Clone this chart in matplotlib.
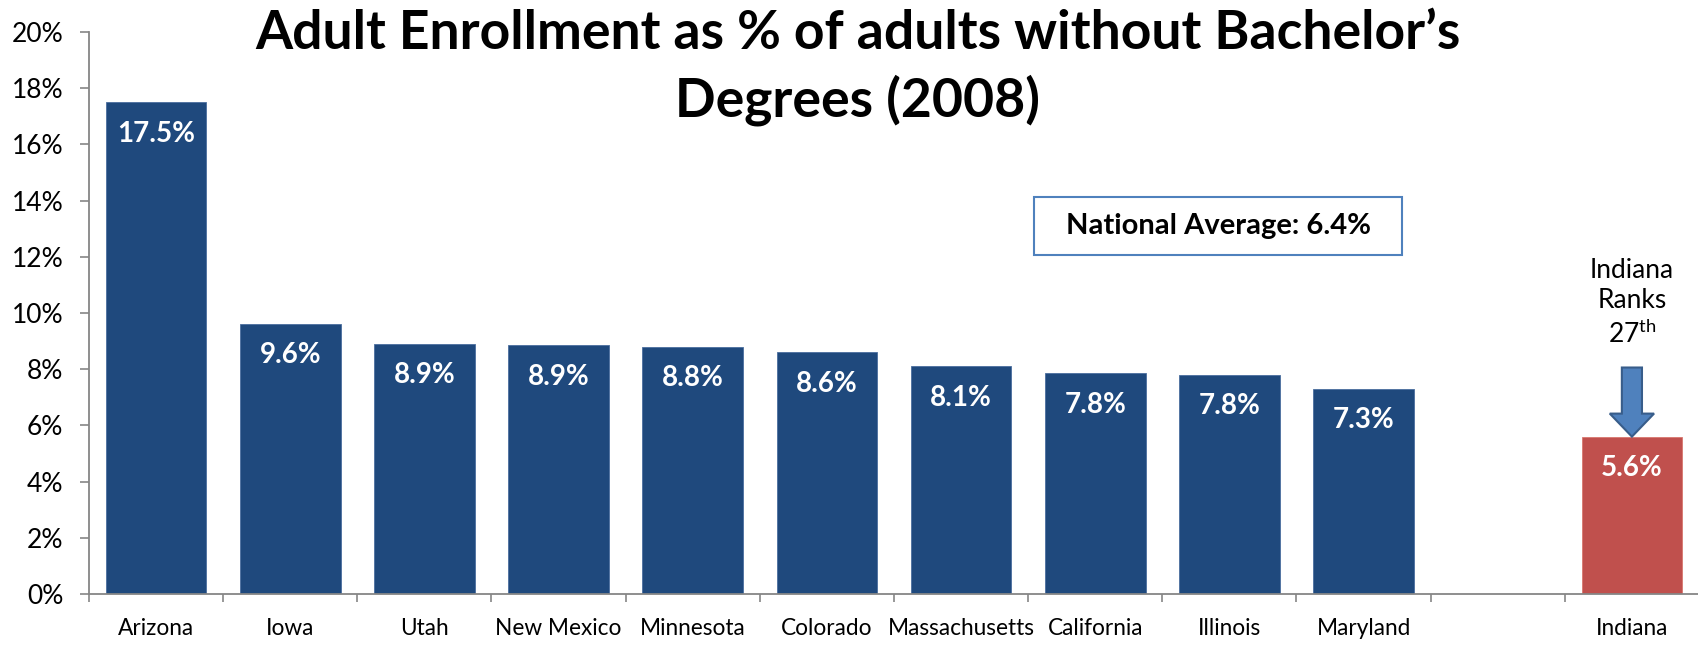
import matplotlib
matplotlib.use("Agg")
import matplotlib.pyplot as plt
from matplotlib.patches import Rectangle, FancyArrow
from matplotlib.ticker import FuncFormatter, MultipleLocator
import numpy as np

plt.rcParams['font.family'] = ['Lato', 'DejaVu Sans']
plt.rcParams['mathtext.fontset'] = 'custom'
plt.rcParams['mathtext.rm'] = 'Lato'

categories = ["Arizona", "Iowa", "Utah", "New Mexico", "Minnesota", "Colorado",
              "Massachusetts", "California", "Illinois", "Maryland", "", "Indiana"]
values = [17.5, 9.6, 8.9, 8.85, 8.8, 8.6, 8.1, 7.85, 7.8, 7.3, np.nan, 5.6]
value_labels = ["17.5%", "9.6%", "8.9%", "8.9%", "8.8%", "8.6%", "8.1%",
                "7.8%", "7.8%", "7.3%", "", "5.6%"]
highlight = "Indiana"
national_avg = 6.4
indiana_rank = 27

BLUE = "#1F497D"
RED = "#C0504D"
GREY = "#868686"

fig = plt.figure(figsize=(16.99, 6.48), dpi=100)
ax = fig.add_axes([89/1699, 1 - 594/648, 1 - 89/1699, (594 - 32)/648])

x = np.arange(len(categories))
colors = [RED if c == highlight else BLUE for c in categories]
bars = ax.bar(x, np.nan_to_num(values), width=0.75, color=colors,
              edgecolor=[("#D9776F" if c == highlight else "#4A6E9E") for c in categories],
              linewidth=0.6, zorder=2)

for xi, v, lab in zip(x, values, value_labels):
    if lab:
        ax.annotate(lab, (xi, v), xytext=(0, -22.5), textcoords="offset points",
                    ha="center", va="center", color="white", fontsize=20,
                    fontweight="bold")

ax.set_xlim(-0.5, len(categories) - 0.5)
ax.set_ylim(0, 20)
ax.yaxis.set_major_locator(MultipleLocator(2))
ax.yaxis.set_major_formatter(FuncFormatter(lambda v, p: f"{v:.0f}%"))
ax.set_xticks(x)
ax.set_xticklabels(categories, fontsize=16.3)
ax.set_xticks(np.arange(-0.5, len(categories)), minor=True)
ax.tick_params(axis="x", which="major", length=0, pad=17)
ax.tick_params(axis="x", which="minor", length=6, width=1.2, color=GREY, direction="out")
ax.tick_params(axis="y", length=6.5, width=1.2, color=GREY, labelsize=19, pad=12)

for s in ["top", "right"]:
    ax.spines[s].set_visible(False)
for s in ["left", "bottom"]:
    ax.spines[s].set_color(GREY)
    ax.spines[s].set_linewidth(1.3)

# Title
fig.text(0.505, 0.896, "Adult Enrollment as % of adults without Bachelor\u2019s\nDegrees (2008)",
         ha="center", va="center", fontsize=38.5, fontweight="bold", linespacing=1.39)

# National average box
bx0, by0, bw, bh = 1034/1699, 1 - 255/648, 368/1699, 58/648
fig.patches.append(Rectangle((bx0, by0), bw, bh, transform=fig.transFigure,
                             facecolor="white", edgecolor="#4F81BD", linewidth=1.5,
                             zorder=3))
fig.text(bx0 + bw/2, by0 + bh/2, f"National Average: {national_avg}%", ha="center",
         va="center", fontsize=21, fontweight="bold", zorder=4)

# Indiana annotation
ii = categories.index(highlight)
iv = values[ii]
ax.text(ii, iv + 4.75, "Indiana\nRanks\n" + f"{indiana_rank}" + r"$^{\mathrm{th}}$",
        ha="center", va="center", fontsize=19, linespacing=1.27)
arrow = FancyArrow(ii, iv + 2.46, 0, -2.46, width=0.15, head_width=0.33,
                   head_length=0.82, length_includes_head=True,
                   facecolor="#4F81BD", edgecolor="#385D8A", linewidth=1.5, zorder=3)
ax.add_patch(arrow)

fig.savefig("out.png", dpi=100)
